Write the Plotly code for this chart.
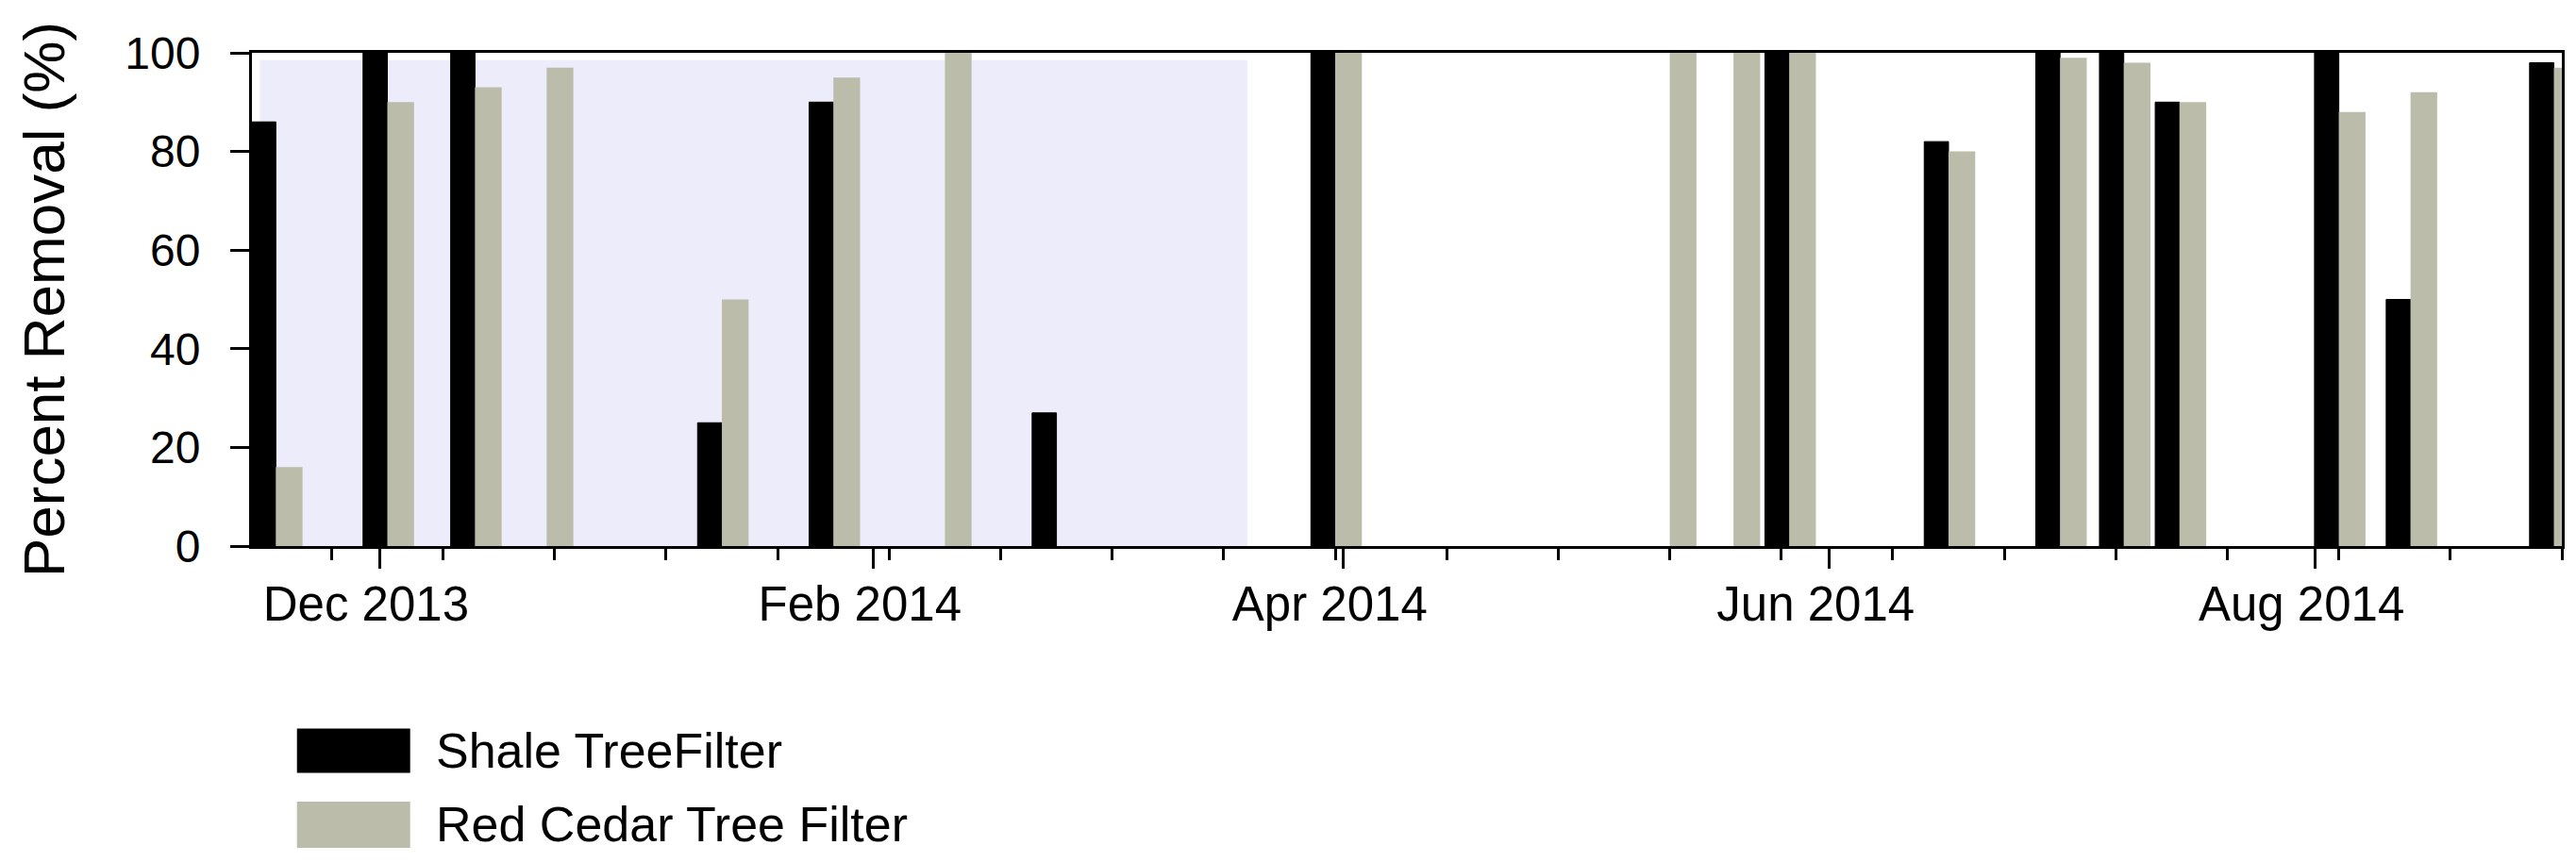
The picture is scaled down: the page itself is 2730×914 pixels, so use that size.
import plotly.graph_objects as go

# sampling dates (each pair of bars sits on its date: shale left, cedar right)
sample_dates = ["2013-11-18", "2013-12-02", "2013-12-13", "2013-12-22", "2014-01-13",
                "2014-01-27", "2014-02-10", "2014-02-24", "2014-03-31", "2014-05-12",
                "2014-05-20", "2014-05-27", "2014-06-16", "2014-06-30", "2014-07-08",
                "2014-07-15", "2014-08-04", "2014-08-13", "2014-08-31"]
shale = [86, 100, 100, None, 25, 90, None, 27, 100, None,
         None, 100, 82, 100, 100, 90, 100, 50, 98]
cedar = [16, 90, 93, 97, 50, 95, 100, None, 100, 100,
         100, 100, 80, 99, 98, 90, 88, 92, 97]
series_names = ["Shale TreeFilter", "Red Cedar Tree Filter"]
y_ticks = [0, 20, 40, 60, 80, 100]

DAY = 86400000
FONT = "Arial, Liberation Sans, sans-serif"
GRAY = "#bbbcaa"

fig = go.Figure()
fig.add_trace(go.Bar(x=sample_dates, y=shale, name=series_names[0],
                     marker=dict(color="black", line=dict(color="black", width=1)),
                     offset=-3.05 * DAY, width=3.05 * DAY, showlegend=False))
fig.add_trace(go.Bar(x=sample_dates, y=cedar, name=series_names[1],
                     marker=dict(color=GRAY, line=dict(width=0)),
                     offset=0, width=3.35 * DAY, showlegend=False))

# shaded winter period
fig.add_shape(type="rect", xref="x", yref="y", x0="2013-11-16", x1="2014-03-20",
              y0=0, y1=98.5, fillcolor="#ececfb", line=dict(width=0), layer="below")

# legend drawn by hand so the swatches are wide like the original
legend_rows = [(-0.37, -0.46, "black"), (-0.518, -0.612, GRAY)]
for (y_top, y_bot, col), name in zip(legend_rows, series_names):
    fig.add_shape(type="rect", xref="paper", yref="paper", x0=0.0195, x1=0.0685,
                  y0=y_bot, y1=y_top, fillcolor=col, line=dict(width=0))
    fig.add_annotation(xref="paper", yref="paper", x=0.079, y=(y_top + y_bot) / 2,
                       text=name, showarrow=False, xanchor="left", yanchor="middle",
                       font=dict(family=FONT, size=52, color="black"))

fig.update_layout(
    width=2730, height=914,
    margin=dict(l=259, r=23, t=48, b=343),
    plot_bgcolor="white", paper_bgcolor="white",
    barmode="overlay",
    font=dict(family=FONT, size=48, color="black"),
    xaxis=dict(type="date", range=["2013-11-15", "2014-09-01"],
               tick0="2013-12-01", dtick="M2", tickformat="%b %Y\u00a0\u00a0",
               ticks="outside", ticklen=21, tickwidth=3, tickcolor="black",
               minor=dict(tick0="2013-11-25", dtick=14 * DAY, ticks="outside",
                          ticklen=12, tickwidth=2.5, tickcolor="black"),
               showline=True, linecolor="black", linewidth=3, mirror=True,
               showgrid=False, zeroline=False, ticklabelstandoff=-6,
               tickfont=dict(size=51)),
    yaxis=dict(range=[0, 100], tickvals=y_ticks,
               ticks="outside", ticklen=20, tickwidth=3, tickcolor="black",
               showline=True, linecolor="black", linewidth=3, mirror=True,
               showgrid=False, zeroline=False, ticklabelstandoff=22,
               tickfont=dict(size=48),
               title=dict(text="Percent Removal (%)", font=dict(size=62), standoff=44)),
)

fig.write_html("out.html")
